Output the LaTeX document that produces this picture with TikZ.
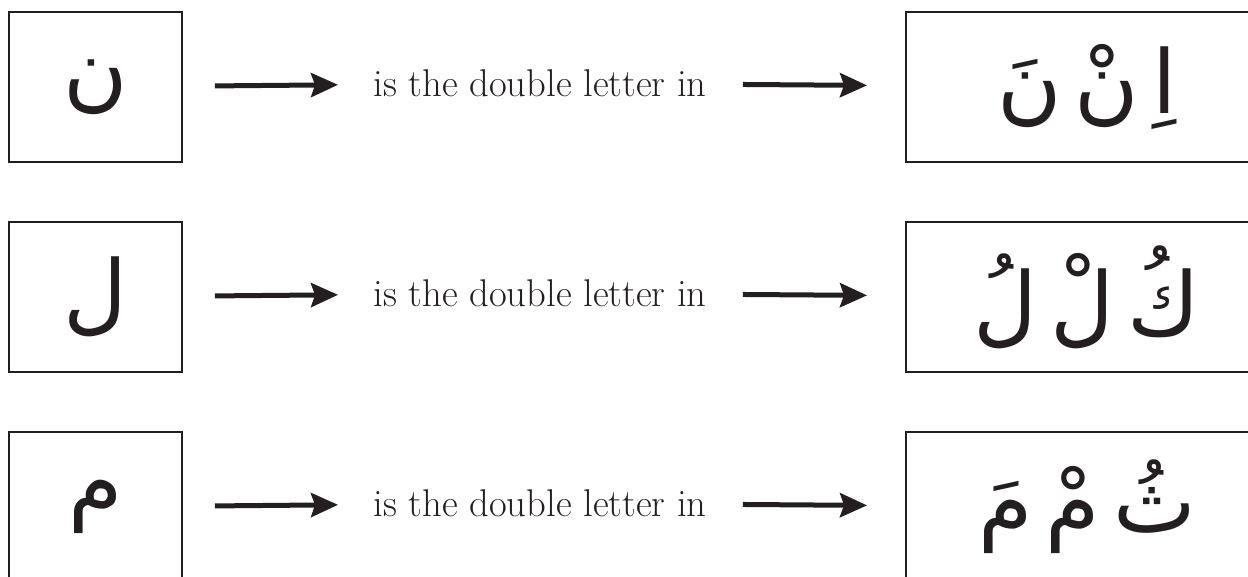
\documentclass[tikz,border=0pt]{standalone}
\usepackage{fontspec}
\newfontfamily\arabicfont[Script=Arabic]{DejaVu Sans}
\TeXXeTstate=1
\usetikzlibrary{positioning,arrows.meta}
\definecolor{ink}{HTML}{231F20}
\newcommand{\gap}{\hspace{0.26cm}}
\tikzset{
  letterbox/.style={draw=ink, line width=0.04cm, minimum width=3.46cm, minimum height=3cm, inner sep=0pt, text=ink, font=\arabicfont\fontsize{50}{54}\selectfont},
  wordbox/.style={letterbox, minimum width=7.24cm},
  phrase/.style={inner sep=0pt, minimum width=6.6cm, text=ink, font=\fontsize{22}{26}\selectfont},
  pointer/.style={draw=ink, line width=0.1cm, -{Stealth[length=0.54cm, width=0.48cm, inset=0.08cm]}},
}
\begin{document}
\begin{tikzpicture}[x=0.02cm, y=-0.02cm]
    \clip (0, 0) rectangle (1248, 577);
    \node[letterbox] (nun) at (95.5, 87) {\beginR ن\endR};
    \node[phrase] (t1) at (540, 83) {is the double letter in};
    \node[wordbox] (w1) at (1087, 87) {\beginR اِ\gap نْ\gap نَ\endR};
    \node[letterbox] (lam) at (95.5, 297) {\beginR ل\endR};
    \node[phrase] (t2) at (540, 293) {is the double letter in};
    \node[wordbox] (w2) at (1087, 297) {\beginR كُ\gap لْ\gap لُ\endR};
    \node[letterbox] (mim) at (95.5, 507) {\beginR م\endR};
    \node[phrase] (t3) at (540, 503) {is the double letter in};
    \node[wordbox] (w3) at (1087, 507) {\beginR ثُ\gap مْ\gap مَ\endR};
    \draw[pointer, shorten <=0.64cm, shorten >=0.7cm] (nun) -- (t1);
    \draw[pointer, shorten <=0.72cm, shorten >=0.76cm] (t1) -- (w1);
    \draw[pointer, shorten <=0.64cm, shorten >=0.7cm] (lam) -- (t2);
    \draw[pointer, shorten <=0.72cm, shorten >=0.76cm] (t2) -- (w2);
    \draw[pointer, shorten <=0.64cm, shorten >=0.7cm] (mim) -- (t3);
    \draw[pointer, shorten <=0.72cm, shorten >=0.76cm] (t3) -- (w3);
\end{tikzpicture}
\end{document}
